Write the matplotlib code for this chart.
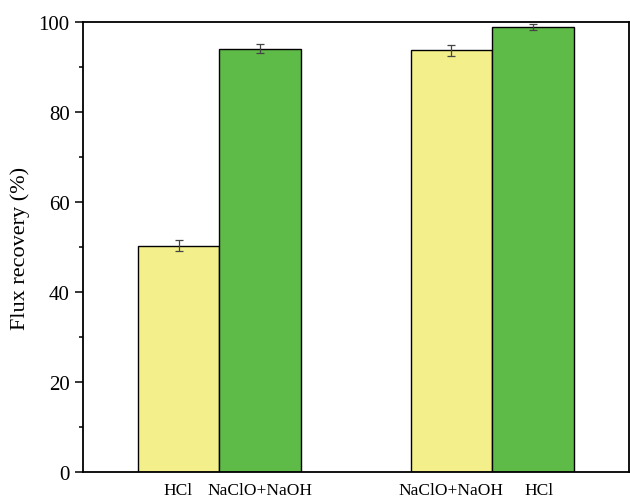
import numpy as np
import matplotlib
matplotlib.use('Agg')
import matplotlib.pyplot as plt
from matplotlib.ticker import MultipleLocator

plt.rcParams['font.family'] = ['Liberation Serif', 'DejaVu Serif']

# data
groups = [0, 1]
yellow_labels = ['HCl', 'NaClO+NaOH']
green_labels = ['NaClO+NaOH', 'HCl']
yellow_vals = [50.3, 93.8]
yellow_err = [1.2, 1.2]
green_vals = [94.2, 99.0]
green_err = [1.1, 0.7]

w = 0.3
x = np.array(groups)

fig = plt.figure(figsize=(6.3, 5.02), dpi=100)
ax = fig.add_axes([0.1317, 0.0578, 0.8665, 0.8955])

ax.bar(x - w / 2, yellow_vals, w, color='#f3ef8a', edgecolor='black', linewidth=1,
       yerr=yellow_err, error_kw=dict(ecolor='#444444', elinewidth=0.9, capsize=3, capthick=0.9))
ax.bar(x + w / 2, green_vals, w, color='#5fbb47', edgecolor='black', linewidth=1,
       yerr=green_err, error_kw=dict(ecolor='#444444', elinewidth=0.9, capsize=3, capthick=0.9))

ax.set_xlim(-0.5, 1.5)
ax.set_ylim(0, 100)
ax.yaxis.set_major_locator(MultipleLocator(20))
ax.yaxis.set_minor_locator(MultipleLocator(10))
ax.tick_params(axis='y', which='major', length=6, width=1.1, labelsize=15, direction='out')
ax.tick_params(axis='y', which='minor', length=3, width=1.1, direction='out')

# second HCl label sits a bit right of its bar in the original
pos = [x[0] - w / 2, x[0] + w / 2, x[1] - w / 2, x[1] + w / 2 + 0.02]
labs = [yellow_labels[0], green_labels[0], yellow_labels[1], green_labels[1]]
ax.set_xticks(pos)
ax.set_xticklabels(labs, fontsize=12.5)
ax.tick_params(axis='x', length=0, pad=7)

ax.set_ylabel('Flux recovery (%)', fontsize=16, labelpad=6)

for s in ax.spines.values():
    s.set_linewidth(1.3)

fig.savefig('out.png', dpi=100)
